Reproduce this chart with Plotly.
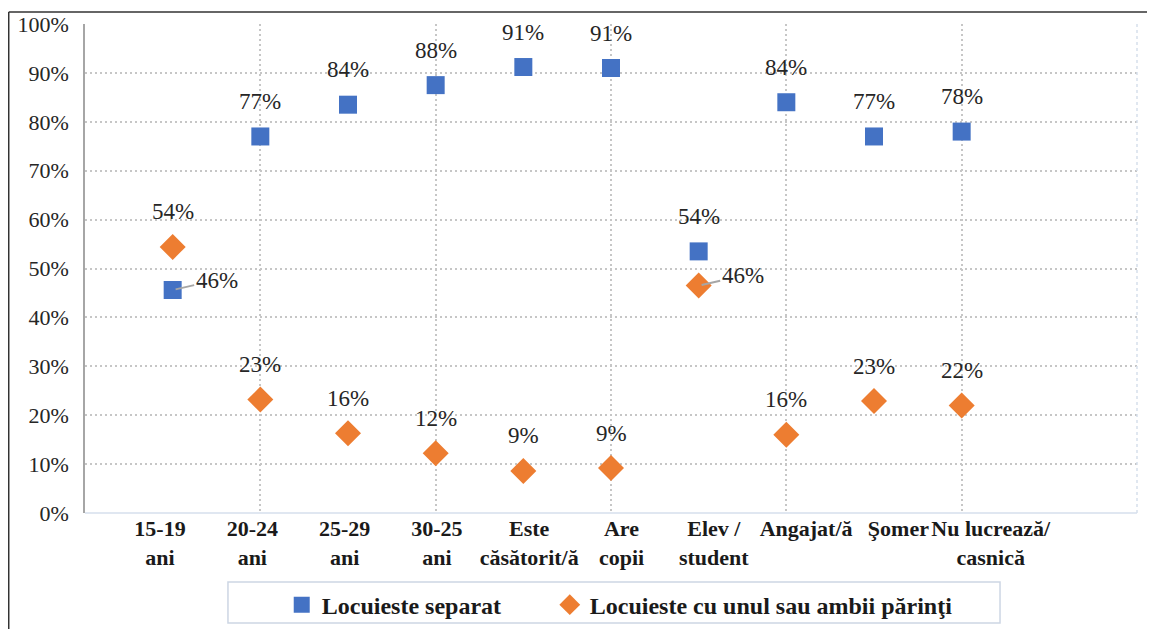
import plotly.graph_objects as go

categories = [
    "15-19<br>ani", "20-24<br>ani", "25-29<br>ani", "30-25<br>ani",
    "Este<br>căsătorit/ă", "Are<br>copii", "Elev /<br>student",
    "Angajat/ă", "Şomer", "Nu lucrează/<br>casnică",
]
x_pos = [1, 2, 3, 4, 5, 6, 7, 8, 9, 10]
label_pos = [0, 1, 2, 3, 4, 5, 6, 7, 8, 9]
separat = [0.456, 0.77, 0.835, 0.875, 0.912, 0.91, 0.535, 0.84, 0.77, 0.78]
cu_parinti = [0.544, 0.232, 0.163, 0.122, 0.086, 0.092, 0.465, 0.16, 0.229, 0.22]
y_ticks = [0, 0.1, 0.2, 0.3, 0.4, 0.5, 0.6, 0.7, 0.8, 0.9, 1.0]

SERIF = "Liberation Serif"
BLUE = "#4472C4"
ORANGE = "#ED7D31"
GRID = "#c6c6c6"
LABEL_FONT = dict(family=SERIF, size=23, color="#262626")
LEGEND_FONT = dict(family=SERIF, size=24, color="#1a1a1a", weight="bold")

fig = go.Figure()
fig.add_trace(go.Scatter(
    x=x_pos, y=separat, mode="markers", name="Locuieste separat", legend="legend",
    marker=dict(symbol="square", size=18, color=BLUE, line=dict(width=0)),
))
fig.add_trace(go.Scatter(
    x=x_pos, y=cu_parinti, mode="markers", name="Locuieste cu unul sau ambii părinţi",
    legend="legend2",
    marker=dict(symbol="diamond", size=20, color=ORANGE, line=dict(width=0)),
))
# invisible trace carrying the category text axis
fig.add_trace(go.Scatter(
    x=label_pos, y=[None] * len(label_pos), xaxis="x2", mode="markers",
    showlegend=False, hoverinfo="skip",
))

# data labels: above the marker, except the lower point of a close pair
for vals, other in ((separat, cu_parinti), (cu_parinti, separat)):
    for xv, v, o in zip(x_pos, vals, other):
        txt = f"{round(v * 100)}%"
        if abs(v - o) < 0.15 and v < o:
            fig.add_annotation(
                x=xv, y=v, text=txt, showarrow=True, arrowhead=0, arrowwidth=2,
                arrowcolor="#a6a6a6", ax=44, ay=-10, standoff=3,
                font=LABEL_FONT,
            )
        else:
            fig.add_annotation(
                x=xv, y=v, text=txt, showarrow=False, yshift=35,
                font=LABEL_FONT,
            )

# outer frame (top and left edges)
fig.add_shape(type="line", xref="paper", yref="paper", x0=-0.0725, x1=1.1, y0=1.0245, y1=1.0245,
              line=dict(color="#333333", width=1.5))
fig.add_shape(type="line", xref="paper", yref="paper", x0=-0.0725, x1=-0.0725, y0=1.0245, y1=-0.3,
              line=dict(color="#333333", width=1.5))
# legend box
fig.add_shape(type="rect", xref="paper", yref="paper", x0=0.1359, x1=0.8698, y0=-0.2249, y1=-0.1411,
              line=dict(color="#cdd6e4", width=1.5))
# bottom axis line and faint right border
fig.add_shape(type="line", xref="paper", yref="paper", x0=0, x1=1, y0=0, y1=0,
              line=dict(color="#d6dfec", width=1.5))
fig.add_shape(type="line", xref="paper", yref="paper", x0=1, x1=1, y0=0, y1=1,
              line=dict(color="#d6dfec", width=1.5, dash="dot"))

legend_common = dict(
    orientation="h", xanchor="left", yanchor="middle", yref="container", y=0.0386,
    font=LEGEND_FONT, borderwidth=0, bgcolor="rgba(0,0,0,0)", itemwidth=30,
)

fig.update_layout(
    width=1139, height=621,
    paper_bgcolor="white", plot_bgcolor="white",
    margin=dict(l=77, r=10, t=16, b=116, autoexpand=False),
    font=dict(family=SERIF, color="#262626"),
    showlegend=True,
    legend=dict(x=0.187, **legend_common),
    legend2=dict(x=0.4418, **legend_common),
    xaxis=dict(
        range=[0, 12], tickmode="array", tickvals=x_pos, showticklabels=False,
        showgrid=False, zeroline=False, showline=False, ticks="", automargin=False,
        minor=dict(tickmode="linear", tick0=0, dtick=2, showgrid=True, gridcolor=GRID,
                   griddash="2px,3px", gridwidth=1.5, ticks=""),
    ),
    xaxis2=dict(
        overlaying="x", side="bottom", range=[-0.8125, 10.585],
        tickmode="array", tickvals=label_pos, ticktext=categories, tickangle=0,
        showgrid=False, zeroline=False, showline=False, ticks="", automargin=False,
        tickfont=dict(family=SERIF, size=22, color="#1a1a1a", weight="bold"),
    ),
    yaxis=dict(
        range=[0, 1.0], tickmode="array", tickvals=y_ticks, tickformat=".0%",
        showgrid=True, gridcolor=GRID, griddash="2px,3px", gridwidth=1.5,
        zeroline=False, showline=True, linecolor="#a6a6a6", linewidth=1.5, automargin=False,
        tickfont=dict(family=SERIF, size=22, color="#262626"), ticks="", ticklabelstandoff=10,
    ),
)

fig.write_html("out.html")
